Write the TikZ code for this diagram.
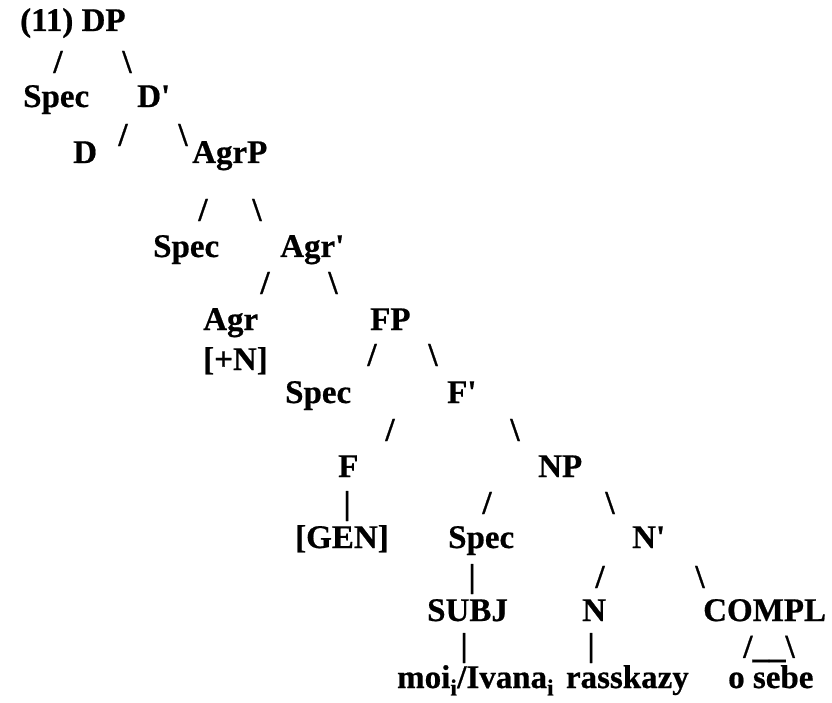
\documentclass[tikz,border=0pt]{standalone}
\usepackage{fontspec}
\setmainfont[FakeBold=0.6]{Liberation Serif}
\newcommand\treefont{\fontsize{33}{36}\selectfont\bfseries}
\newcommand\pr{\textquotesingle}
\begin{document}
\begin{tikzpicture}[x=1pt,y=-1pt,
  lbl/.style={inner sep=0pt, font=\treefont, anchor=base west},
  lble/.style={inner sep=0pt, font=\treefont, anchor=base east},
  br/.style={inner sep=0pt, font=\treefont, anchor=center}]
\useasboundingbox (0,0) rectangle (832,703);
% level 0
\node[lbl] (dp) at (20,31) {(11) DP};
\node[br] (b1l) at (58,62) {/};
\node[br] (b1r) at (127,62) {\textbackslash};
% level 1
\node[lbl] (spec1) at (23,107) {Spec};
\node[lbl] (dbar) at (137,107) {D\pr};
\node[br] (b2l) at (123,135) {/};
\node[br] (b2r) at (183,135) {\textbackslash};
% level 2
\node[lbl] (d) at (73,163) {D};
\node[lbl] (agrp) at (192,163) {AgrP};
\node[br] (b3l) at (203,210) {/};
\node[br] (b3r) at (257,210) {\textbackslash};
% level 3
\node[lbl] (spec2) at (153,257) {Spec};
\node[lbl] (agrbar) at (280,257) {Agr\pr};
\node[br] (b4l) at (265,283) {/};
\node[br] (b4r) at (333,283) {\textbackslash};
% level 4
\node[lbl] (agr) at (203,330) {Agr};
\node[lbl] (plusn) at (203,370) {[+N]};
\node[lbl] (fp) at (370,330) {FP};
\node[br] (b5l) at (372,355) {/};
\node[br] (b5r) at (433,355) {\textbackslash};
% level 5
\node[lbl] (spec3) at (285,403) {Spec};
\node[lbl] (fbar) at (447,403) {F\pr};
\node[br] (b6l) at (390,430) {/};
\node[br] (b6r) at (515,430) {\textbackslash};
% level 6
\node[lbl] (f) at (338,477) {F};
\node[lbl] (np) at (538,477) {NP};
\node[br] (b7f) at (347,506) {|};
\node[br] (b7l) at (487,503) {/};
\node[br] (b7r) at (610,503) {\textbackslash};
% level 7
\node[lbl] (gen) at (295,548) {[GEN]};
\node[lbl] (spec4) at (448,548) {Spec};
\node[lbl] (nbar) at (632,548) {N\pr};
\node[br] (b8s) at (472,579) {|};
\node[br] (b8l) at (600,577) {/};
\node[br] (b8r) at (700,577) {\textbackslash};
% level 8
\node[lbl] (subj) at (427,621) {SUBJ};
\node[lbl] (n) at (582,621) {N};
\node[lbl] (compl) at (703,621) {COMPL};
\node[br] (b9s) at (464,648) {|};
\node[br] (b9n) at (591,648) {|};
\node[br] (b9c) at (769,649) {/\_\_\textbackslash};
% terminals
\node[lbl] (moi) at (397,688) {moi\textsubscript{i}/Ivana\textsubscript{i}};
\node[lble] (rass) at (689,688) {rasskazy};
\node[lbl] (sebe) at (728,688) {o sebe};
\end{tikzpicture}
\end{document}
